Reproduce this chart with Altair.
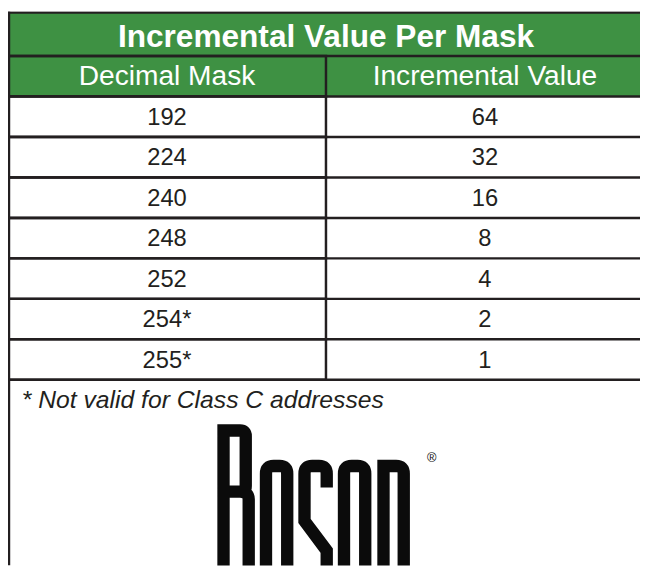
import altair as alt
import pandas as pd

# ---- data -------------------------------------------------------------
title_text = "Incremental Value Per Mask"
columns = ["Decimal Mask", "Incremental Value"]
decimal_mask = ["192", "224", "240", "248", "252", "254*", "255*"]
incremental_value = ["64", "32", "16", "8", "4", "2", "1"]
footnote = "* Not valid for Class C addresses"
brand_mark = "\u00ae"

# ---- style ------------------------------------------------------------
GREEN = "#3e9143"
LINE = "#231f20"
INK = "#0b0b0b"
FONT = "Liberation Sans"
W, H = 640, 561
SW = 2.5

row_ids = ["header"] + [f"row{i + 1}" for i in range(len(decimal_mask))]

records = []
for c in columns:
    records.append({"row": "header", "col": c, "label": c, "kind": "header"})
for i, (a, b) in enumerate(zip(decimal_mask, incremental_value)):
    records.append({"row": row_ids[i + 1], "col": columns[0], "label": a, "kind": "data"})
    records.append({"row": row_ids[i + 1], "col": columns[1], "label": b, "kind": "data"})
cells = pd.DataFrame(records)
rows_df = pd.DataFrame({"row": row_ids, "last": [r == row_ids[-1] for r in row_ids]})

xscale = alt.Scale(domain=columns, range=[0, 644], paddingInner=0, paddingOuter=0)
yscale = alt.Scale(domain=row_ids, range=[45, 373], paddingInner=0, paddingOuter=0)

base = alt.Chart(cells).encode(
    x=alt.X("col:N", scale=xscale, axis=None),
    y=alt.Y("row:N", scale=yscale, axis=None),
)

fill_scale = alt.Scale(domain=["header", "data"], range=[GREEN, "#ffffff"])

right_cells = base.transform_filter(alt.datum.col == columns[1]).mark_rect(
    clip=True, strokeWidth=0
).encode(color=alt.Color("kind:N", scale=fill_scale, legend=None))
left_cells = base.transform_filter(alt.datum.col == columns[0]).mark_rect(
    stroke=LINE, strokeWidth=SW
).encode(color=alt.Color("kind:N", scale=fill_scale, legend=None))

row_tops = alt.Chart(rows_df).mark_rule(color=LINE, strokeWidth=SW, clip=True).encode(
    y=alt.Y("row:N", scale=yscale, axis=None, bandPosition=0),
    x=alt.value(0), x2=alt.value(W),
)
row_bottom = alt.Chart(rows_df).transform_filter(alt.datum.last).mark_rule(
    color=LINE, strokeWidth=SW, clip=True
).encode(
    y=alt.Y("row:N", scale=yscale, axis=None, bandPosition=1),
    x=alt.value(0), x2=alt.value(W),
)

header_text = base.transform_filter(alt.datum.kind == "header").mark_text(
    fontSize=28.5, color="#ffffff", font=FONT, baseline="middle"
).encode(text="label:N")

data_text = base.transform_filter(alt.datum.kind == "data").mark_text(
    fontSize=24, color=LINE, font=FONT, baseline="middle", dy=1
).encode(text="label:N")

title_df = pd.DataFrame({"row": ["title"], "label": [title_text]})
tscale = alt.Scale(domain=["title"], range=[1, 45], paddingInner=0, paddingOuter=0)
title_base = alt.Chart(title_df).encode(y=alt.Y("row:N", scale=tscale, axis=None))
title_rect = title_base.mark_rect(fill=GREEN, clip=True, strokeWidth=0).encode(
    x=alt.value(0), x2=alt.value(W)
)
title_txt = title_base.mark_text(
    fontSize=32, fontWeight="bold", color="#ffffff", font=FONT, baseline="middle", dy=3
).encode(x=alt.value(322), text="label:N")

frame_top = alt.Chart(pd.DataFrame({"k": [0]})).mark_rule(
    color=LINE, strokeWidth=SW, clip=True
).encode(y=alt.value(1), x=alt.value(0), x2=alt.value(W))
frame_left = alt.Chart(pd.DataFrame({"k": [0]})).mark_rule(
    color=LINE, strokeWidth=SW, clip=True
).encode(x=alt.value(1), y=alt.value(0), y2=alt.value(H))

note = alt.Chart(pd.DataFrame({"label": [footnote]})).mark_text(
    align="left", baseline="alphabetic", fontSize=25, fontStyle="italic",
    color=LINE, font=FONT
).encode(x=alt.value(14), y=alt.value(402), text="label:N")

logo_path = (
    "M6.25,185 L6.25,6.25 L23,6.25 Q28.75,6.25 28.75,12 L28.75,62.5 Q28.75,68.25 23,68.25 L6.25,68.25 "
    "M23,68.25 Q31.75,68.25 31.75,76 L31.75,185 "
    "M49.25,185 L49.25,50 Q49.25,42.25 57,42.25 L63,42.25 Q70.75,42.25 70.75,50 L70.75,185 "
    "M110.75,64 L110.75,50 Q110.75,42.25 103,42.25 L96,42.25 Q88.25,42.25 88.25,50 "
    "L88.25,98 L110.75,128 L110.75,185 "
    "M128.25,185 L128.25,50 Q128.25,42.25 136,42.25 L142,42.25 Q149.75,42.25 149.75,50 L149.75,185 "
    "M168.25,185 L168.25,42.25 L181,42.25 Q188.75,42.25 188.75,50 L188.75,185"
)
logo = alt.Chart(pd.DataFrame({"k": [0]})).mark_point(
    shape=logo_path, size=4, filled=False, color=INK, strokeWidth=12.5,
    opacity=1, strokeCap="butt", strokeJoin="miter", clip=True
).encode(x=alt.value(212), y=alt.value(418))

reg = alt.Chart(pd.DataFrame({"label": [brand_mark]})).mark_text(
    fontSize=13, color=INK, font=FONT, baseline="middle"
).encode(x=alt.value(429), y=alt.value(452), text="label:N")

chart = alt.layer(
    title_rect, title_txt, right_cells, left_cells, row_tops, row_bottom,
    header_text, data_text, frame_top, frame_left, note, logo, reg
).resolve_scale(y="independent").properties(
    width=W, height=H, padding=0, background="#ffffff",
    autosize=alt.AutoSizeParams(type="none")
).configure_view(strokeWidth=0, stroke="transparent")

chart.save("out.html", embed_options={"renderer": "svg", "actions": False})
